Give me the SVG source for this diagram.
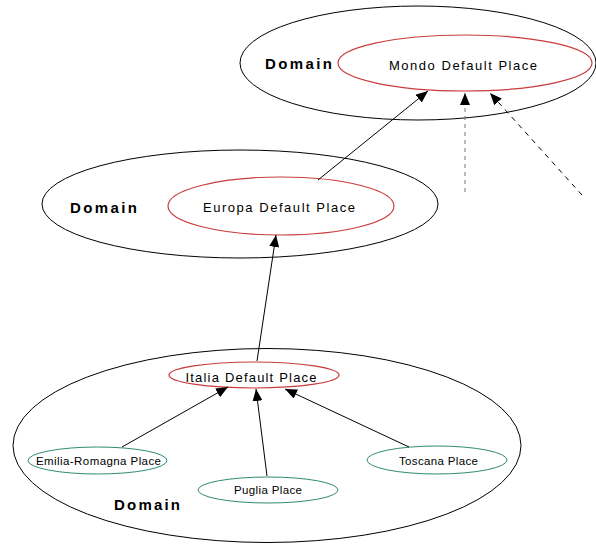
<svg xmlns="http://www.w3.org/2000/svg" width="596" height="545" viewBox="0 0 596 545">
  <style>
    .domain { fill: none; stroke: #000; stroke-width: 1; }
    .place { fill: #fff; stroke: #c83c3c; stroke-width: 1.2; }
    .leaf { fill: #fff; stroke: #2e8b74; stroke-width: 1; }
    .dlabel { font-family: "Liberation Sans", Arial, sans-serif; font-weight: bold; font-size: 15px; fill: #000; }
    .plabel { font-family: "Liberation Sans", Arial, sans-serif; font-size: 13px; fill: #000; text-anchor: middle; }
    .llabel { font-family: "Liberation Sans", Arial, sans-serif; font-size: 11.5px; fill: #000; text-anchor: middle; }
    .edge { fill: none; stroke: #000; stroke-width: 1; }
    .dash { fill: none; stroke: #000; stroke-width: 1; stroke-dasharray: 5 5; }
    .dash-grey { fill: none; stroke: #777; stroke-width: 1; stroke-dasharray: 4 4; }
  </style>
  <defs>
    <!-- filled triangular arrowhead, tip on the line end -->
    <marker id="arrow" viewBox="0 0 12 10" refX="12" refY="5" markerWidth="12" markerHeight="10" markerUnits="userSpaceOnUse" orient="auto">
      <path d="M0,0 L12,5 L0,10 z" fill="#000"/>
    </marker>
  </defs>

  <rect width="596" height="545" fill="#fff"/>

  <!-- Mondo domain -->
  <g id="domain-mondo">
    <ellipse class="domain" cx="418" cy="63" rx="178" ry="57"/>
    <text class="dlabel" x="265" y="69" textLength="67" lengthAdjust="spacing">Domain</text>
  </g>
  <g id="mondo-place">
    <ellipse class="place" cx="465" cy="63" rx="127" ry="28"/>
    <text class="plabel" x="463" y="70" textLength="148" lengthAdjust="spacing">Mondo Default Place</text>
  </g>

  <!-- Europa domain -->
  <g id="domain-europa">
    <ellipse class="domain" cx="240" cy="204" rx="198" ry="54"/>
    <text class="dlabel" x="70" y="213" textLength="67" lengthAdjust="spacing">Domain</text>
  </g>
  <g id="europa-place">
    <ellipse class="place" cx="281" cy="206" rx="113" ry="29"/>
    <text class="plabel" x="279" y="212" textLength="152" lengthAdjust="spacing">Europa Default Place</text>
  </g>

  <!-- Italia domain -->
  <g id="domain-italia">
    <ellipse class="domain" cx="267" cy="445.5" rx="254" ry="97"/>
    <text class="dlabel" x="114" y="510" textLength="66" lengthAdjust="spacing">Domain</text>
  </g>
  <g id="italia-place">
    <ellipse class="place" cx="254" cy="375" rx="85" ry="13"/>
    <text class="plabel" x="251" y="382" textLength="131" lengthAdjust="spacing">Italia Default Place</text>
  </g>
  <g id="emilia-romagna-place">
    <ellipse class="leaf" cx="97.5" cy="460.5" rx="69.5" ry="13.5"/>
    <text class="llabel" x="98.5" y="465" textLength="125" lengthAdjust="spacing">Emilia-Romagna Place</text>
  </g>
  <g id="puglia-place">
    <ellipse class="leaf" cx="268" cy="490" rx="70" ry="13"/>
    <text class="llabel" x="268" y="494" textLength="68" lengthAdjust="spacing">Puglia Place</text>
  </g>
  <g id="toscana-place">
    <ellipse class="leaf" cx="437" cy="460" rx="70" ry="14"/>
    <text class="llabel" x="438.5" y="465" textLength="79" lengthAdjust="spacing">Toscana Place</text>
  </g>

  <!-- connectors -->
  <g id="connectors">
    <line class="edge" x1="318" y1="180" x2="428" y2="91" marker-end="url(#arrow)"/>
    <line class="dash-grey" x1="465" y1="192" x2="465" y2="93" marker-end="url(#arrow)"/>
    <line class="dash" x1="582" y1="195" x2="490" y2="93" marker-end="url(#arrow)"/>
    <line class="edge" x1="257" y1="361" x2="276" y2="235" marker-end="url(#arrow)"/>
    <line class="edge" x1="122" y1="447" x2="228" y2="387" marker-end="url(#arrow)"/>
    <line class="edge" x1="267" y1="476" x2="256" y2="389" marker-end="url(#arrow)"/>
    <line class="edge" x1="409" y1="447" x2="285" y2="389" marker-end="url(#arrow)"/>
  </g>
</svg>
